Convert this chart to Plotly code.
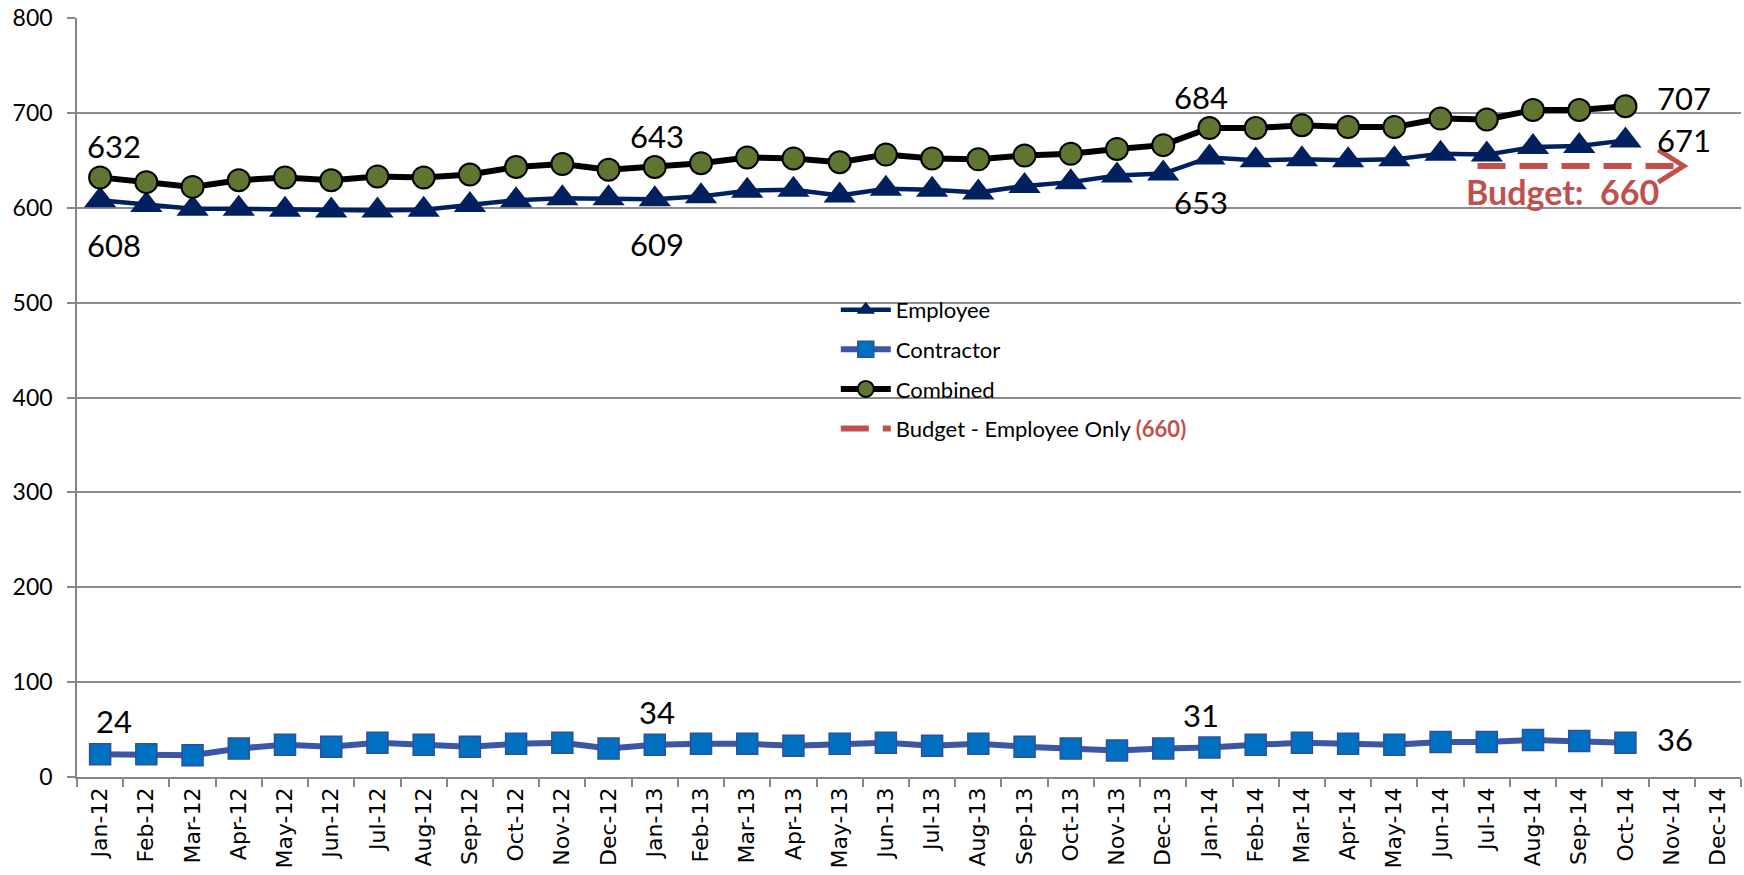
import plotly.graph_objects as go

months = ["Jan-12", "Feb-12", "Mar-12", "Apr-12", "May-12", "Jun-12", "Jul-12", "Aug-12",
          "Sep-12", "Oct-12", "Nov-12", "Dec-12", "Jan-13", "Feb-13", "Mar-13", "Apr-13",
          "May-13", "Jun-13", "Jul-13", "Aug-13", "Sep-13", "Oct-13", "Nov-13", "Dec-13",
          "Jan-14", "Feb-14", "Mar-14", "Apr-14", "May-14", "Jun-14", "Jul-14", "Aug-14",
          "Sep-14", "Oct-14", "Nov-14", "Dec-14"]

employee = [608, 603, 599, 599, 598, 597, 597, 598, 603, 608, 610, 610,
            609, 612, 618, 619, 613, 620, 619, 616, 623, 627, 634, 636,
            653, 650, 651, 650, 651, 657, 656, 664, 665, 671]
contractor = [24, 24, 23, 30, 34, 32, 36, 34, 32, 35, 36, 30,
              34, 35, 35, 33, 35, 36, 33, 35, 32, 30, 28, 30,
              31, 34, 36, 35, 34, 37, 37, 39, 38, 36]
combined = [632, 627, 622, 629, 632, 629, 633, 632, 635, 643, 646, 640,
            643, 647, 653, 652, 648, 656, 652, 651, 655, 657, 662, 666,
            684, 684, 687, 685, 685, 694, 693, 703, 703, 707]

budget_value = 660
budget_drawn_level = 644
budget_from = "Jul-14"
budget_to = "Nov-14"

labelled_months = ["Jan-12", "Jan-13", "Jan-14"]
y_ticks = [0, 100, 200, 300, 400, 500, 600, 700, 800]

idx = list(range(len(months)))
xs = idx[:len(employee)]

NAVY = "#002060"
RED = "#C0504D"
GREEN = "#5E7632"
LBL_FONT = dict(family="Lato", size=31, color="black")

fig = go.Figure()

fig.add_trace(go.Scatter(
    x=xs, y=employee, name="Employee", mode="lines+markers", legendgroup="a",
    line=dict(color=NAVY, width=4.5),
    marker=dict(symbol="triangle-up", size=28, color=NAVY, line=dict(width=0))))
fig.add_trace(go.Scatter(
    x=xs, y=contractor, name="Contractor", mode="lines+markers", legendgroup="b",
    line=dict(color="#3B56A5", width=6),
    marker=dict(symbol="square", size=21, color="#0070C0", line=dict(color="#2F4F9E", width=1.5))))
fig.add_trace(go.Scatter(
    x=xs, y=combined, name="Combined", mode="lines+markers", legendgroup="c",
    line=dict(color="black", width=6),
    marker=dict(symbol="circle", size=22, color=GREEN, line=dict(color="black", width=2))))

b0 = months.index(budget_from) - 0.2
b1 = months.index(budget_to) + 0.05
fig.add_trace(go.Scatter(
    x=[b0, b1], y=[budget_drawn_level, budget_drawn_level],
    name='Budget - Employee Only <span style="color:%s"><b>(%d)</b></span>' % (RED, budget_value),
    mode="lines", legendgroup="d",
    line=dict(color=RED, width=6, dash="28px,14px")))
# open chevron arrow head
tip = months.index(budget_to) + 0.26
fig.add_trace(go.Scatter(
    x=[tip - 0.55, tip, tip - 0.55], y=[budget_drawn_level + 17, budget_drawn_level, budget_drawn_level - 17],
    mode="lines", showlegend=False, line=dict(color=RED, width=5)))

annotations = []


def add_label(i, v, where, shift_y=0):
    xsft = 14 - 0.95 * i
    if where == "above":
        annotations.append(dict(x=i, y=v, text=str(v), showarrow=False, font=LBL_FONT,
                                xanchor="center", yanchor="middle", xshift=xsft, yshift=31 + shift_y))
    elif where == "below":
        annotations.append(dict(x=i, y=v, text=str(v), showarrow=False, font=LBL_FONT,
                                xanchor="center", yanchor="middle", xshift=xsft, yshift=-45))
    else:
        annotations.append(dict(x=i, y=v, text=str(v), showarrow=False, font=LBL_FONT,
                                xanchor="left", yanchor="middle", xshift=30, yshift=shift_y))


for m in labelled_months:
    i = months.index(m)
    add_label(i, combined[i], "above")
    add_label(i, employee[i], "below")
    add_label(i, contractor[i], "above", 2)
last = len(employee) - 1
add_label(last, combined[last], "right", 8)
add_label(last, employee[last], "right", 0)
add_label(last, contractor[last], "right", 4)

annotations.append(dict(x=b0, y=budget_drawn_level, text="Budget:&nbsp; %d" % budget_value,
                        showarrow=False, xanchor="left", yanchor="middle", xshift=-14, yshift=-25,
                        font=dict(family="Lato", size=34, color=RED, weight="bold")))

fig.update_layout(
    width=1744, height=875,
    margin=dict(l=77, r=3, t=18, b=98, autoexpand=False),
    plot_bgcolor="white", paper_bgcolor="white",
    font=dict(family="Lato", color="black"),
    annotations=annotations,
    legend=dict(x=0.456, y=0.643, xanchor="left", yanchor="top",
                font=dict(family="Lato", size=22, color="black"),
                bgcolor="rgba(0,0,0,0)", tracegroupgap=8, itemwidth=50),
)
fig.update_xaxes(
    range=[-0.5, len(months) - 0.5], tickmode="array", tickvals=idx, ticktext=months,
    tickangle=-90, tickfont=dict(family="DejaVu Sans", size=22, color="black"),
    ticks="", showgrid=False, showline=True, linecolor="#868686", linewidth=1.5,
    zeroline=False, automargin=False, ticklabeloverflow="allow",
    minor=dict(tickmode="array", tickvals=[i - 0.5 for i in range(len(months) + 1)],
               ticks="outside", ticklen=8, tickcolor="#868686", tickwidth=1.5, showgrid=False),
)
fig.update_yaxes(
    range=[0, 800], tickmode="array", tickvals=y_ticks,
    tickfont=dict(family="Lato", size=23, color="black"),
    ticks="outside", ticklen=8, tickcolor="#868686", tickwidth=1.5,
    showgrid=True, gridcolor="#8C8C8C", gridwidth=1.5, automargin=False,
    showline=True, linecolor="#868686", linewidth=1.5, zeroline=False,
    ticklabelstandoff=10, ticklabeloverflow="allow",
)

# remove the default page margin so the 1744x875 figure fills the window exactly
fig.write_html("out.html", config={"displayModeBar": False},
               post_script="document.body.style.margin='0px';")
